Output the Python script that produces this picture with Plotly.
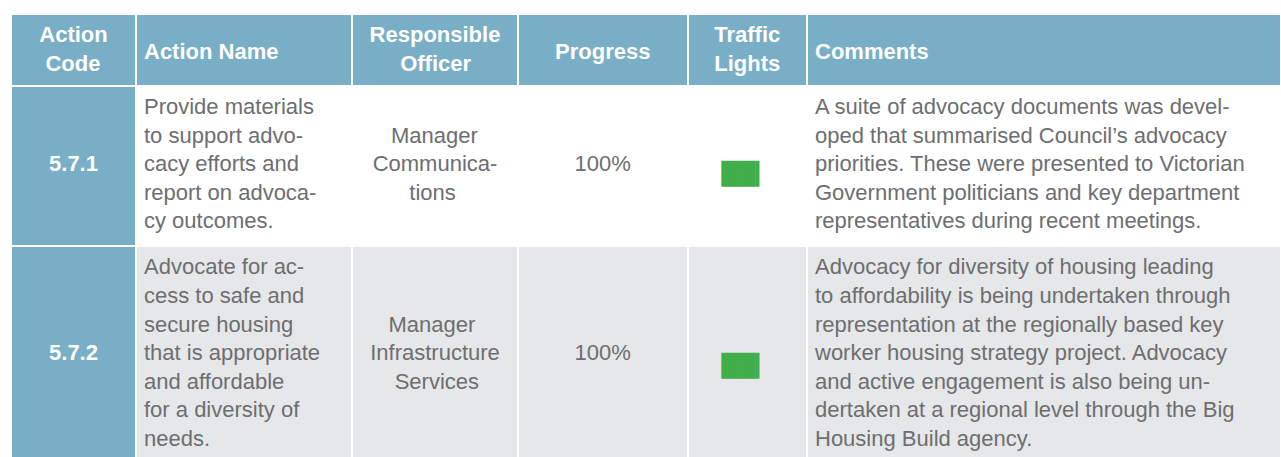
import plotly.graph_objects as go

# ---- data ----
header_labels = [["Action", "Code"], ["Action Name"], ["Responsible", "Officer"],
                 ["Progress"], ["Traffic", "Lights"], ["Comments"]]
action_codes = ["5.7.1", "5.7.2"]
action_names = [
    ["Provide materials", "to support advo-", "cacy efforts and",
     "report on advoca-", "cy outcomes."],
    ["Advocate for ac-", "cess to safe and", "secure housing",
     "that is appropriate", "and affordable", "for a diversity of", "needs."],
]
officers = [
    ["Manager", "Communica-", "tions"],
    ["Manager", "Infrastructure", "Services"],
]
progress = ["100%", "100%"]
traffic_lights = ["green", "green"]
comments = [
    ["A suite of advocacy documents was devel-",
     "oped that summarised Council\u2019s advocacy",
     "priorities. These were presented to Victorian",
     "Government politicians and key department",
     "representatives during recent meetings."],
    ["Advocacy for diversity of housing leading",
     "to affordability is being undertaken through",
     "representation at the regionally based key",
     "worker housing strategy project. Advocacy",
     "and active engagement is also being un-",
     "dertaken at a regional level through the Big",
     "Housing Build agency."],
]

# ---- style ----
HEADER_BG = "#78aec6"
ROW_BG = ["#ffffff", "#e6e7e8"]
TEXT = "#6d6e71"
LIGHT_COLORS = {"green": "#40ae49", "amber": "#f7a823", "red": "#e2231a"}
FONT = "Liberation Sans"
SIZE = 22
NBSP = "\u00a0"
# invisible spacer that adds a little bottom padding to each row
SPACER = '<span style="font-size:46px">\u00a0</span>'

# approximate glyph advance widths (per 1000 em) used to centre each line
W_REG = {'M': 833, 'a': 556, 'n': 556, 'g': 556, 'e': 556, 'r': 333, 'C': 722,
         'o': 556, 'm': 833, 'u': 556, 'i': 222, 'c': 500, '-': 333, 't': 278,
         's': 500, 'I': 278, 'f': 278, 'S': 667, 'v': 500, ' ': 278}
W_BOLD = {'A': 722, 'c': 556, 't': 333, 'i': 278, 'o': 611, 'n': 611, 'C': 722,
          'd': 611, 'e': 556, 'R': 722, 's': 556, 'p': 611, 'b': 611, 'l': 278,
          'O': 778, 'f': 333, 'r': 389, 'T': 611, 'a': 556, 'L': 611, 'g': 611,
          'h': 611, ' ': 278}


def centre_lines(lines, wmap):
    widths = [sum(wmap.get(ch, 556) for ch in ln) for ln in lines]
    mw = max(widths)
    return [NBSP * int(round((mw - w) / 2 / 278)) + ln for ln, w in zip(lines, widths)]


def pad(lines, n, tail=0):
    lead = (n - len(lines)) // 2
    return "<br>".join([NBSP] * lead + lines + [NBSP] * tail)


nrows = len(action_codes)
col_code, col_name, col_off, col_prog, col_light, col_com = [], [], [], [], [], []
for i in range(nrows):
    n = max(len(action_names[i]), len(officers[i]), len(comments[i]))
    tail = 1 if i == nrows - 1 else 0   # last row continues past the crop
    col_code.append(pad(["<b>" + action_codes[i] + "</b>"], n))
    col_name.append(pad(action_names[i], n))
    col_off.append(pad(centre_lines(officers[i], W_REG), n))
    col_prog.append(pad([progress[i]], n))
    col_light.append(pad(['<span style="font-size:21.8px">\u2588\u2588\u258e</span>'], n))
    col_com.append(pad(comments[i], n, tail) + SPACER)

row_fill = [ROW_BG[i % 2] for i in range(nrows)]
fills = [[HEADER_BG] * nrows] + [row_fill] * 5
font_colors = [["white"] * nrows, [TEXT] * nrows, [TEXT] * nrows, [TEXT] * nrows,
               [LIGHT_COLORS[s] for s in traffic_lights], [TEXT] * nrows]

hdr, hdr_sizes = [], []
for h in header_labels:
    if len(h) > 1:
        hdr.append("<b>" + "<br>".join(centre_lines(h, W_BOLD)) + "</b>")
        hdr_sizes.append(SIZE)
    else:
        hdr.append(NBSP + '<br><span style="font-size:%dpx"><b>%s</b></span>' % (SIZE, h[0]))
        hdr_sizes.append(17)

fig = go.Figure(go.Table(
    columnwidth=[125, 216, 166, 169.5, 119.5, 474],
    header=dict(
        values=hdr,
        fill_color=HEADER_BG,
        line=dict(color="white", width=2),
        align=["center", "left", "center", "center", "center", "left"],
        font=dict(family=FONT, size=hdr_sizes, color="white"),
        height=72,
    ),
    cells=dict(
        values=[col_code, col_name, col_off, col_prog, col_light, col_com],
        fill_color=fills,
        line=dict(color="white", width=2),
        align=["center", "left", "center", "center", "center", "left"],
        font=dict(family=[FONT, FONT, FONT, FONT, "DejaVu Sans", FONT],
                  size=[SIZE, SIZE, SIZE, SIZE, 24.5, SIZE],
                  color=font_colors),
        height=40,
    ),
))

fig.update_layout(
    width=1281, height=457,
    margin=dict(l=11, r=0, t=14, b=0),
    paper_bgcolor="white",
)

fig.write_html("out.html",
               config={"displayModeBar": False},
               post_script="document.body.style.margin='0';"
                           "window.dispatchEvent(new Event('resize'));")
